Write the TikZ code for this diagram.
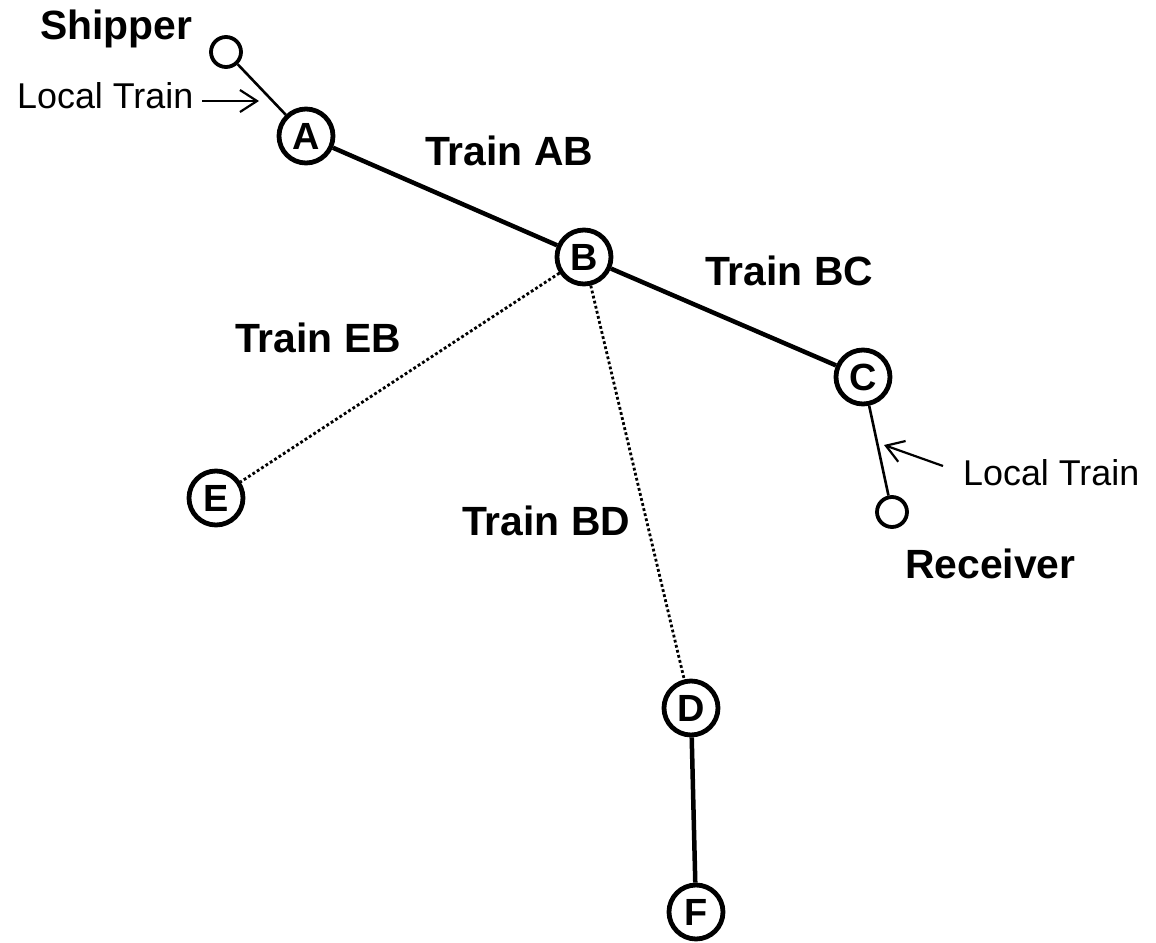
\documentclass[tikz,border=0pt]{standalone}
\usepackage{fontspec}
\setmainfont{Liberation Sans}
\usetikzlibrary{arrows.meta}
\begin{document}
\begin{tikzpicture}[x=1bp,y=-1bp,
  station/.style={circle,draw,line width=4.8bp,minimum size=54bp,inner sep=0pt,
    font=\fontsize{38}{38}\selectfont\bfseries},
  endpt/.style={circle,draw,line width=3.8bp,minimum size=30bp,inner sep=0pt},
  trainlbl/.style={anchor=base west,inner sep=0pt,font=\fontsize{41}{41}\selectfont\bfseries},
  locallbl/.style={anchor=base west,inner sep=0pt,font=\fontsize{36}{36}\selectfont},
  mainline/.style={line width=4.5bp},
  localline/.style={line width=2.6bp},
  dotline/.style={line width=2.8bp,dash pattern=on 2.8bp off 2.4bp},
  pointer/.style={line width=2.2bp,-{Straight Barb[length=17bp,width=22bp,line width=2.2bp]}}]
\useasboundingbox (0,0) rectangle (1156,943);
% stations
\node[station] (A) at (306,136) {A};
\node[station] (B) at (584,257) {B};
\node[station] (C) at (863,377) {C};
\node[station] (D) at (691,708) {D};
\node[station] (E) at (216,498) {E};
\node[station] (F) at (696,912) {F};
\node[endpt] (S) at (226,52) {};
\node[endpt] (R) at (892,512) {};
% connections
\draw[localline] (S) -- (A);
\draw[mainline] (A) -- (B);
\draw[mainline] (B) -- (C);
\draw[localline] (C) -- (R);
\draw[dotline] (B) -- (E);
\draw[dotline] (B) -- (D);
\draw[mainline] (D) -- (F);
% labels
\node[trainlbl] (lS) at (40,39) {Shipper};
\node[trainlbl] (lR) at (905,578) {Receiver};
\node[trainlbl] (lAB) at (425,165) {Train AB};
\node[trainlbl] (lBC) at (705,285) {Train BC};
\node[trainlbl] (lEB) at (235,352) {Train EB};
\node[trainlbl] (lBD) at (462,535) {Train BD};
\node[locallbl] (l1) at (17,108) {Local Train};
\node[locallbl] (l2) at (963,485) {Local Train};
% pointers
\coordinate (p1s) at (202,101);
\coordinate (p1e) at (259,101);
\coordinate (p2s) at (943,466);
\coordinate (p2e) at (884,445);
\draw[pointer] (p1s) -- (p1e);
\draw[pointer] (p2s) -- (p2e);
\end{tikzpicture}
\end{document}
